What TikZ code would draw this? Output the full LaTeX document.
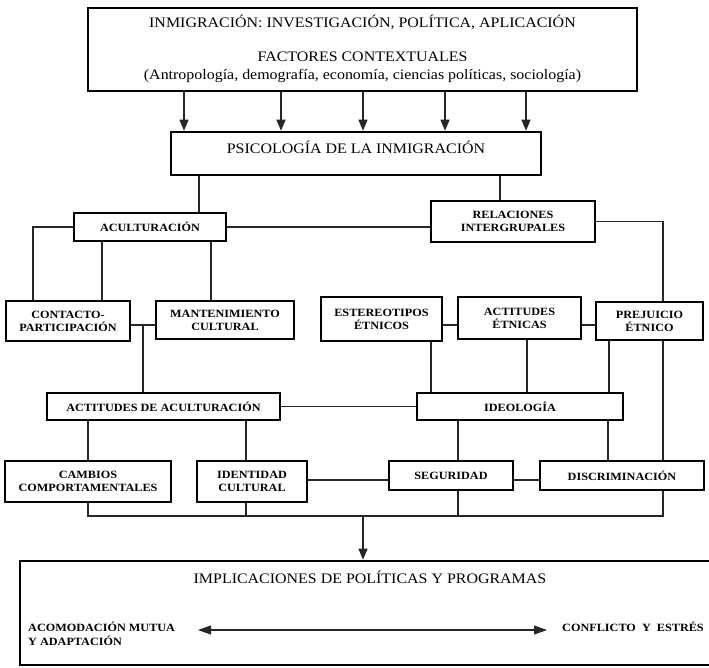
\documentclass[tikz,border=0pt]{standalone}
\usepackage{fontspec}
\setmainfont[FakeStretch=1.1]{Liberation Serif}
\usetikzlibrary{arrows.meta}
\begin{document}
\begin{tikzpicture}[x=1pt,y=-1pt,
  conn/.style={line width=1.1pt,draw=black!85},
  arr/.style={conn,-{Triangle[length=11pt,width=9pt]}},
  darr/.style={conn,{Triangle[length=13pt,width=9pt]}-{Triangle[length=13pt,width=9pt]}},
  bigbox/.style={draw,line width=2.6pt,inner sep=0pt},
  sbox/.style={draw,line width=2.2pt,inner sep=0pt,align=center,font=\fontsize{11.1}{13}\selectfont\bfseries},
  ttl/.style={inner sep=0pt,font=\fontsize{14.5}{16}\selectfont},
  sml/.style={inner sep=0pt,font=\fontsize{11.1}{14.5}\selectfont\bfseries}]
\useasboundingbox (0,0) rectangle (709,667);
% boxes
\node[bigbox,minimum width=549pt,minimum height=83pt] (top) at (362.5,49.5) {};
\node[ttl] (t1) at (362.5,22) {INMIGRACIÓN: INVESTIGACIÓN, POLÍTICA, APLICACIÓN};
\node[ttl] (t2) at (362.5,57) {FACTORES CONTEXTUALES};
\node[ttl] (t3) at (362.5,75.5) {(Antropología, demografía, economía, ciencias políticas, sociología)};
\node[bigbox,minimum width=370pt,minimum height=43pt] (psico) at (356,153.5) {};
\node[ttl] (pt) at (356,147) {PSICOLOGÍA DE LA INMIGRACIÓN};
\node[sbox,minimum width=152pt,minimum height=28pt] (acult) at (150,227) {ACULTURACIÓN};
\node[sbox,minimum width=164pt,minimum height=41pt] (relac) at (513,221.5) {RELACIONES\\INTERGRUPALES};
\node[sbox,minimum width=124pt,minimum height=40pt] (contacto) at (68,321) {CONTACTO-\\PARTICIPACIÓN};
\node[sbox,minimum width=138pt,minimum height=38pt] (manten) at (225,320) {MANTENIMIENTO\\CULTURAL};
\node[sbox,minimum width=121pt,minimum height=44pt] (estereo) at (381.5,319) {ESTEREOTIPOS\\ÉTNICOS};
\node[sbox,minimum width=123pt,minimum height=42pt] (actet) at (519.5,318) {ACTITUDES\\ÉTNICAS};
\node[sbox,minimum width=107pt,minimum height=38pt] (prej) at (649.5,321) {PREJUICIO\\ÉTNICO};
\node[sbox,minimum width=233pt,minimum height=27pt] (actacul) at (163.5,406.5) {ACTITUDES DE ACULTURACIÓN};
\node[sbox,minimum width=206pt,minimum height=27pt] (ideol) at (520,406.5) {IDEOLOGÍA};
\node[sbox,minimum width=166pt,minimum height=41pt] (cambios) at (88,481.5) {CAMBIOS\\COMPORTAMENTALES};
\node[sbox,minimum width=110pt,minimum height=41pt] (ident) at (252,481.5) {IDENTIDAD\\CULTURAL};
\node[sbox,minimum width=124pt,minimum height=29pt] (segur) at (451,475.5) {SEGURIDAD};
\node[sbox,minimum width=164pt,minimum height=29pt] (discr) at (622,475.5) {DISCRIMINACIÓN};
\node[bigbox,minimum width=694pt,minimum height=104pt] (impl) at (367,613) {};
\node[ttl] (it) at (370,577) {IMPLICACIONES DE POLÍTICAS Y PROGRAMAS};
\node[sml,anchor=west,align=left] (acom) at (28,634) {ACOMODACIÓN MUTUA\\Y ADAPTACIÓN};
\node[sml,anchor=west] (confl) at (562,627) {CONFLICTO\ \ Y\ \ ESTRÉS};
% helper coordinates
\foreach \n/\x in {a/184,b/281,c/363,d/445,e/526,p1/199,p2/500,c33/33,c102/102,c211/211,c143/143,c663/663,c431/431,c527/527,c609/609,c88/88,c246/246,c458/458,c608/608}
  \coordinate (\n) at (\x,0);
\coordinate (y325) at (0,325);
\coordinate (y480) at (0,480);
\coordinate (y516) at (0,516);
\coordinate (l197) at (198,630);
\coordinate (r547) at (547,630);
% top arrows
\foreach \n in {a,b,c,d,e}
  \draw[arr] (top.south -| \n) -- (psico.north -| \n);
% psico to acult / relac
\draw[conn] (psico.south -| p1) -- (acult.north -| p1);
\draw[conn] (psico.south -| p2) -- (relac.north -| p2);
\draw[conn] (acult.east) -- (acult.east -| relac.west);
\draw[conn] (acult.west) -| (contacto.north -| c33);
\draw[conn] (acult.south -| c102) -- (contacto.north -| c102);
\draw[conn] (acult.south -| c211) -- (manten.north -| c211);
\draw[conn] (relac.east) -| (prej.north -| c663);
\draw[conn] (prej.south -| c663) -- (discr.north -| c663);
% second row
\draw[conn] (contacto.east |- y325) -- (manten.west |- y325);
\draw[conn] (c143 |- y325) -- (actacul.north -| c143);
\draw[conn] (estereo.east |- y325) -- (actet.west |- y325);
\draw[conn] (actet.east |- y325) -- (prej.west |- y325);
\draw[conn] (estereo.south -| c431) -- (ideol.north -| c431);
\draw[conn] (actet.south -| c527) -- (ideol.north -| c527);
\draw[conn] (prej.south -| c609) -- (ideol.north -| c609);
% third row
\draw[conn] (actacul.east) -- (ideol.west);
\draw[conn] (actacul.south -| c88) -- (cambios.north -| c88);
\draw[conn] (actacul.south -| c246) -- (ident.north -| c246);
\draw[conn] (ideol.south -| c458) -- (segur.north -| c458);
\draw[conn] (ideol.south -| c608) -- (discr.north -| c608);
% fourth row
\draw[conn] (ident.east |- y480) -- (segur.west |- y480);
\draw[conn] (segur.east |- y480) -- (discr.west |- y480);
\draw[conn] (cambios.south -| c88) -- (c88 |- y516) -- (c663 |- y516) -- (discr.south -| c663);
\draw[conn] (ident.south -| c246) -- (c246 |- y516);
\draw[conn] (segur.south -| c458) -- (c458 |- y516);
\draw[arr] (c |- y516) -- (impl.north -| c);
\draw[darr] (l197) -- (r547);
\end{tikzpicture}
\end{document}
